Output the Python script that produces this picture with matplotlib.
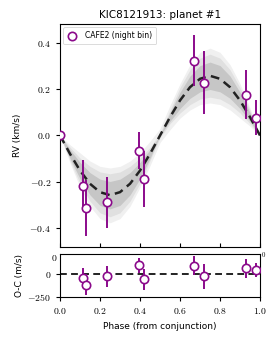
#!/usr/bin/env python3
"""
RV phase curve of KIC8121913 planet #1 with O-C residual panel.
"""

import matplotlib
matplotlib.use('Agg')
import matplotlib.pyplot as plt
from matplotlib import rcParams
from matplotlib.ticker import FuncFormatter, MultipleLocator

rcParams.update({
    'font.family': 'DejaVu Sans',
    'mathtext.fontset': 'cm',
    'font.size': 6,
    'axes.linewidth': 0.8,
    'xtick.major.size': 3,
    'ytick.major.size': 3,
})

# ── Data ──────────────────────────────────────────────────────────────
phase = [0.113, 0.130, 0.233, 0.397, 0.420, 0.672, 0.722, 0.930, 0.980]
rv = [-0.216, -0.311, -0.288, -0.066, -0.188, 0.321, 0.228, 0.175, 0.077]   # km/s
rv_err = [0.110, 0.120, 0.110, 0.080, 0.120, 0.110, 0.135, 0.105, 0.075]     # km/s
oc = [-50, -119, -29, 91, -61, 87, -29, 62, 40]                              # m/s
oc_err = [108, 115, 112, 80, 116, 105, 134, 103, 73]                         # m/s

ref_phase = [0.0]
ref_rv = [0.0]

# model curve and credible bands, sampled every 0.05 in phase
model_phase = [0.00, 0.05, 0.10, 0.15, 0.20, 0.25, 0.30, 0.35, 0.40, 0.45, 0.50,
               0.55, 0.60, 0.65, 0.70, 0.75, 0.80, 0.85, 0.90, 0.95, 1.00]
model_rv = [0.000, -0.079, -0.151, -0.208, -0.244, -0.257, -0.244, -0.208, -0.151, -0.079, 0.000,
            0.079, 0.151, 0.208, 0.244, 0.257, 0.244, 0.208, 0.151, 0.079, 0.000]
band1_lo = [0.000, -0.098, -0.186, -0.256, -0.301, -0.316, -0.301, -0.256, -0.186, -0.098, 0.000,
            0.061, 0.116, 0.160, 0.188, 0.198, 0.188, 0.160, 0.116, 0.061, 0.000]
band1_hi = [0.000, -0.061, -0.116, -0.160, -0.188, -0.198, -0.188, -0.160, -0.116, -0.061, 0.000,
            0.098, 0.186, 0.256, 0.301, 0.316, 0.301, 0.256, 0.186, 0.098, 0.000]
band2_lo = [0.000, -0.108, -0.206, -0.283, -0.333, -0.350, -0.333, -0.283, -0.206, -0.108, -0.010,
            0.051, 0.097, 0.133, 0.157, 0.165, 0.157, 0.133, 0.097, 0.051, 0.000]
band2_hi = [0.000, -0.051, -0.097, -0.133, -0.157, -0.165, -0.157, -0.133, -0.097, -0.051, 0.010,
            0.108, 0.206, 0.283, 0.333, 0.350, 0.333, 0.283, 0.206, 0.108, 0.000]
band3_lo = [0.000, -0.118, -0.223, -0.305, -0.358, -0.376, -0.358, -0.305, -0.223, -0.130, -0.030,
            0.025, 0.075, 0.110, 0.133, 0.140, 0.133, 0.110, 0.075, 0.040, 0.000]
band3_hi = [0.000, -0.040, -0.075, -0.110, -0.133, -0.140, -0.133, -0.110, -0.075, -0.025, 0.030,
            0.130, 0.223, 0.305, 0.358, 0.376, 0.358, 0.305, 0.223, 0.118, 0.000]

PURPLE = '#8b0a8b'

# ── Figure ────────────────────────────────────────────────────────────
fig = plt.figure(figsize=(2.74, 3.43), dpi=100)
ax = fig.add_axes([0.219, 0.280, 0.730, 0.650])
axr = fig.add_axes([0.219, 0.134, 0.730, 0.125])

# bands
ax.fill_between(model_phase, band3_lo, band3_hi, color='#f0f0f0', lw=0, zorder=1)
ax.fill_between(model_phase, band2_lo, band2_hi, color='#e0e0e0', lw=0, zorder=1)
ax.fill_between(model_phase, band1_lo, band1_hi, color='#c6c6c6', lw=0, zorder=1)
ax.plot(model_phase, model_rv, color='#222222', lw=1.8, ls=(0, (3.5, 2.2)), zorder=2)

ax.errorbar(phase, rv, yerr=rv_err, fmt='none', ecolor=PURPLE, elinewidth=1.4,
            capsize=0, zorder=3)
ax.plot(phase, rv, 'o', ms=6, mfc='white', mec=PURPLE, mew=1.2, zorder=4,
        label='CAFE2 (night bin)')
ax.plot(ref_phase, ref_rv, 'o', ms=6, mfc='white', mec=PURPLE, mew=1.2, zorder=4,
        clip_on=True)

ax.set_xlim(0, 1)
ax.set_ylim(-0.48, 0.48)
ax.yaxis.set_major_locator(MultipleLocator(0.2))
ax.xaxis.set_major_locator(MultipleLocator(0.2))
ax.tick_params(axis='x', direction='in', labelbottom=False)
mathfmt = FuncFormatter(lambda v, p: f'${v:.1f}$')
ax.yaxis.set_major_formatter(mathfmt)
ax.tick_params(axis='y', labelsize=7)
ax.set_ylabel('RV (km/s)', fontsize=6.5, labelpad=5)
ax.set_title('KIC8121913: planet #1', fontsize=7.5, pad=4)

leg = ax.legend(loc='upper left', fontsize=5.5, frameon=True, fancybox=True,
                handlelength=1.3, borderpad=0.55, handletextpad=1.0,
                borderaxespad=0.4)
leg.get_frame().set_edgecolor('#cccccc')
leg.get_frame().set_linewidth(0.6)

# residuals
axr.axhline(0, color='#222222', lw=1.4, ls=(0, (3.5, 2.2)), zorder=1)
axr.errorbar(phase, oc, yerr=oc_err, fmt='none', ecolor=PURPLE, elinewidth=1.4,
             capsize=0, zorder=2)
axr.plot(phase, oc, 'o', ms=6, mfc='white', mec=PURPLE, mew=1.2, zorder=3)
axr.set_xlim(0, 1)
axr.set_ylim(-255, 215)
axr.set_yticks([-250, 0])
axr.yaxis.set_major_formatter(FuncFormatter(lambda v, p: f'${v:.0f}$'))
axr.xaxis.set_major_locator(MultipleLocator(0.2))
axr.xaxis.set_major_formatter(mathfmt)
axr.tick_params(labelsize=7)
axr.set_ylabel('O-C (m/s)', fontsize=6.5, labelpad=2)
axr.set_xlabel('Phase (from conjunction)', fontsize=6.5, labelpad=4)
axr.text(-0.015, 0.92, '$0$', transform=axr.transAxes, ha='right', va='center',
         fontsize=7)
axr.text(1.005, 1.0, '$0$', transform=axr.transAxes, ha='left', va='center',
         fontsize=5)

fig.savefig('out.png', dpi=100)
plt.close(fig)
